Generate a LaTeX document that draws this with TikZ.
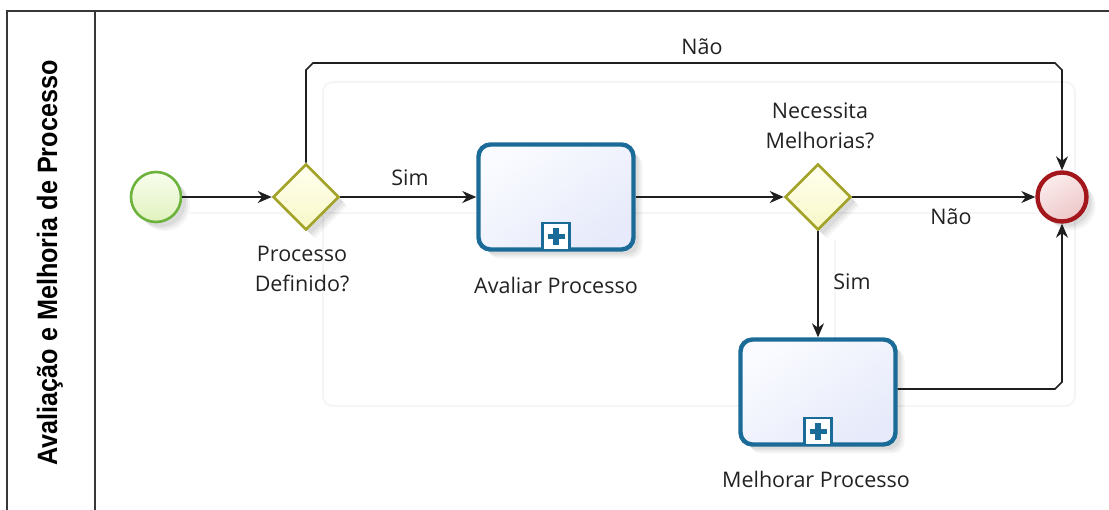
\documentclass[tikz,border=0pt]{standalone}
\usepackage{fontspec}
\setmainfont{Open Sans}
\newfontfamily\lanefont{Liberation Sans}
\usetikzlibrary{arrows.meta,shadows,calc,shapes.geometric}

\definecolor{taskblue}{HTML}{1B6B98}
\definecolor{taskfillA}{HTML}{FAFBFF}
\definecolor{taskfillB}{HTML}{E6EAFA}
\definecolor{gwline}{HTML}{A3A32A}
\definecolor{gwfillA}{HTML}{FFFFF0}
\definecolor{gwfillB}{HTML}{F8F8C8}
\definecolor{startline}{HTML}{6CB33E}
\definecolor{startfillA}{HTML}{F8FDEE}
\definecolor{startfillB}{HTML}{E0F2BE}
\definecolor{endline}{HTML}{A3171C}
\definecolor{endfillA}{HTML}{FBEDED}
\definecolor{endfillB}{HTML}{EEC6C8}
\definecolor{txt}{HTML}{222222}
\definecolor{ghost}{HTML}{F5F5F5}

\tikzset{
  softshadow/.style={
    drop shadow={shadow xshift=5pt,shadow yshift=-5pt,opacity=0.06,fill=black},
    drop shadow={shadow xshift=7pt,shadow yshift=-7pt,opacity=0.05,fill=black},
    drop shadow={shadow xshift=9pt,shadow yshift=-9pt,opacity=0.04,fill=black}},
  taskbox/.style={draw=taskblue,line width=4.4pt,rounded corners=12pt,
    minimum width=155pt,minimum height=105pt,inner sep=0pt,
    top color=taskfillA,bottom color=taskfillB,shading angle=35,softshadow},
  gateway/.style={diamond,aspect=1,draw=gwline,line width=2.6pt,
    minimum width=66pt,minimum height=66pt,inner sep=0pt,
    top color=gwfillA,bottom color=gwfillB,softshadow},
  startev/.style={circle,draw=startline,line width=2.6pt,minimum size=50pt,
    inner sep=0pt,top color=startfillA,bottom color=startfillB,softshadow},
  endev/.style={circle,draw=endline,line width=4.4pt,minimum size=49pt,
    inner sep=0pt,top color=endfillA,bottom color=endfillB,shading angle=30,softshadow},
  marker/.style={draw=taskblue,line width=2.6pt,fill=white,minimum size=27pt,inner sep=0pt},
  flow/.style={draw=black!88,line width=1.6pt,
    -{Stealth[length=14pt,width=12pt,inset=4.5pt]}},
  lbl/.style={text=txt,font=\fontsize{21.5}{30}\selectfont,inner sep=0pt,align=center},
  ghostline/.style={draw=ghost,line width=2pt},
}

\begin{document}
\begin{tikzpicture}[x=1pt,y=-1pt]
\useasboundingbox (0,0) rectangle (1109,510);

% pool and lane header
\draw[black!78,line width=1.6pt] (7,515) -- (7,11) -- (1115,11);
\draw[black!78,line width=1.6pt] (95,11) -- (95,515);
\node[rotate=90,text=black,inner sep=0pt] (lane) at (50,263)
  {\scalebox{0.9}[1]{\lanefont\bfseries\fontsize{28}{30}\selectfont Avaliação e Melhoria de Processo}};

% faint background trace of the flow
\draw[ghostline,rounded corners=10pt] (323,82) rectangle (1075,406);
\draw[ghostline] (190,213) -- (1040,213);
\draw[ghostline] (835,240) -- (835,340);

% flow objects
\node[startev] (s) at (156,197) {};
\node[gateway] (g1) at (306,197) {};
\node[taskbox] (t1) at (556,197) {};
\node[gateway] (g2) at (818,197) {};
\node[endev] (e) at (1062,197) {};
\node[taskbox] (t2) at (818,392) {};

% collapsed sub-process markers
\node[marker] (m1) at ($(t1.south)+(0,-15)$) {};
\node[marker] (m2) at ($(t2.south)+(0,-15)$) {};
\foreach \m in {m1,m2}{
  \draw[taskblue,line width=5.5pt] ($(\m)+(-8.5,0)$) -- ($(\m)+(8.5,0)$);
  \draw[taskblue,line width=5.5pt] ($(\m)+(0,-8.5)$) -- ($(\m)+(0,8.5)$);
}

% labels
\node[lbl] (l1) at (302,269) {Processo\\Definido?};
\node[lbl] (l2) at (556,285) {Avaliar Processo};
\node[lbl] (l3) at (820,126) {Necessita\\Melhorias?};
\node[lbl] (l4) at (816,479) {Melhorar Processo};
\node[lbl] (c1) at (410,178) {Sim};
\node[lbl] (c2) at (951,217) {Não};
\node[lbl] (c3) at (852,282) {Sim};
\node[lbl] (c4) at (702,47) {Não};

% sequence flows
\coordinate (topy) at (0,63);
\draw[flow] (s.east) -- (g1.west);
\draw[flow] (g1.east) -- (t1.west);
\draw[flow] (t1.east) -- (g2.west);
\draw[flow] (g2.east) -- (e.west);
\draw[flow] (g2.south) -- (t2.north);
\draw[flow] (g1.north) -- ($(g1.north |- topy)+(0,7)$) -- ($(g1.north |- topy)+(7,0)$)
  -- ($(e.north |- topy)+(-7,0)$) -- ($(e.north |- topy)+(0,7)$) -- (e.north);
\coordinate (boty) at (0,389);
\draw[flow] (t2.east |- boty) -- ($(e.south |- boty)+(-7,0)$) -- ($(e.south |- boty)+(0,-7)$) -- (e.south);
\end{tikzpicture}
\end{document}
